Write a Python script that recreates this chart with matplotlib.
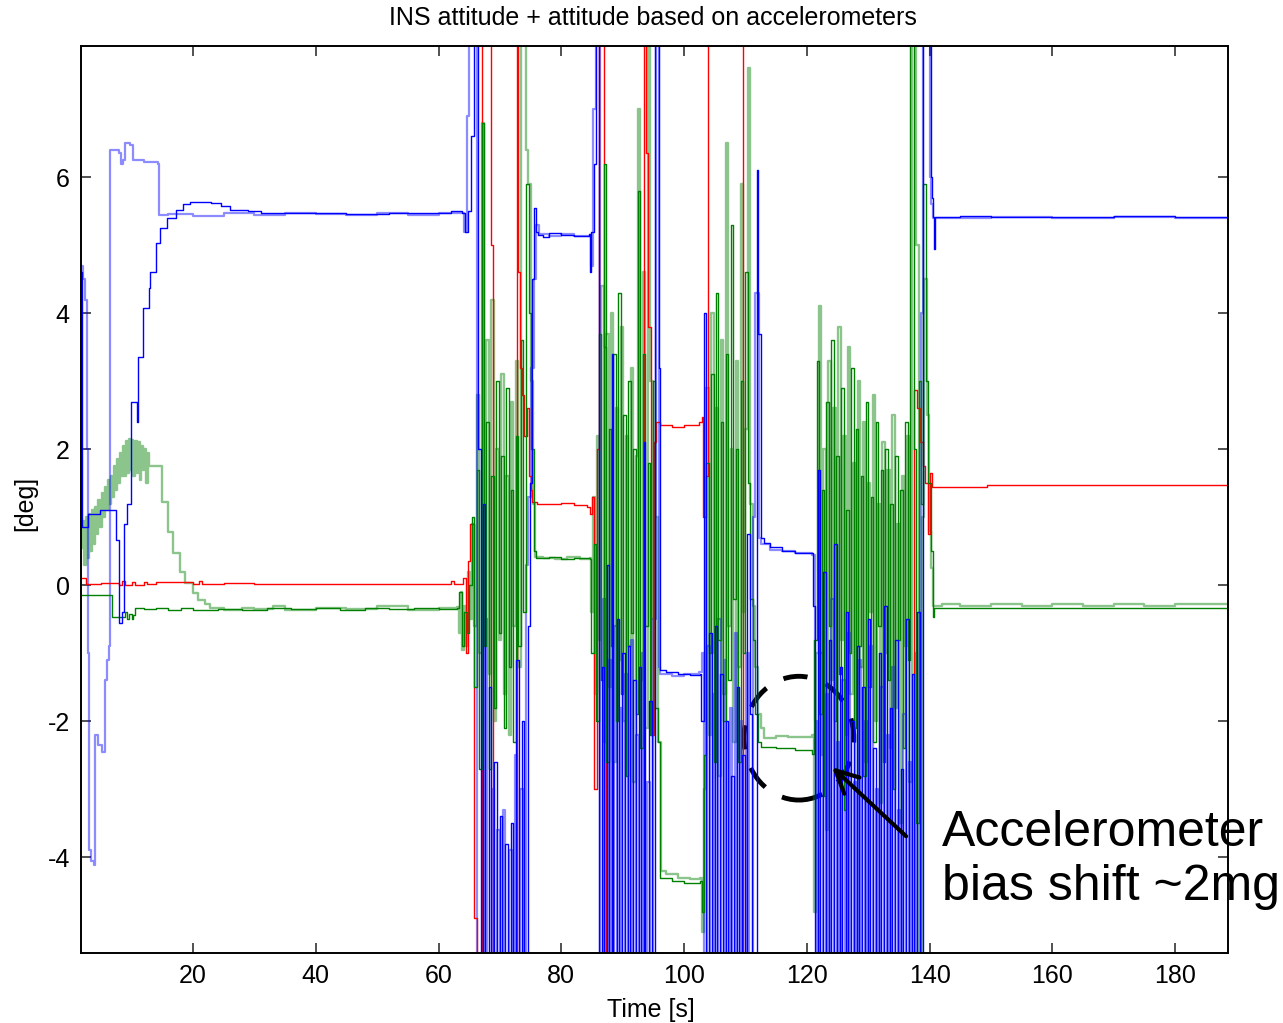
import numpy as np
import matplotlib
matplotlib.use("Agg")
import matplotlib.pyplot as plt
from matplotlib.patches import Ellipse

# (time [s], angle [deg]) pairs, values outside the
# axes (9 / -7) mean the trace leaves the visible window
blue_ins = [(1.8, 4.6), (1.95, 0.85), (2.9, 1.05), (4.9, 1.1), (7.5, 0.66), (8.0, -0.55), (8.5, -0.4),
            (8.7, 0.9), (9.3, 1.2), (9.9, 2.7), (10.8, 2.4), (11.0, 3.35), (11.85, 4.07), (12.8, 4.37),
            (13.0, 4.6), (14.0, 5.03), (14.6, 5.26), (15.8, 5.4), (17.2, 5.52), (18.4, 5.6), (19.5, 5.64),
            (23.0, 5.62), (24.5, 5.58), (26.0, 5.52), (29.0, 5.5), (31.0, 5.48), (36.0, 5.47), (45.0, 5.46),
            (52.0, 5.47), (58.0, 5.48), (62.0, 5.5), (63.8, 5.48), (64.3, 5.2), (64.8, 5.5), (65.3, 6.6),
            (65.8, 9), (66.5, 2.0), (66.9, -7),
            (67.3, 1.2), (67.6, -7), (68.2, -1.5), (68.6, -7), (69.1, -2.6), (69.5, -7), (70.0, -3.4),
            (70.4, -7), (70.9, -3.8), (71.3, -7), (71.8, -3.5), (72.2, -7), (72.7, -1.1), (73.1, -7),
            (73.6, -2.0), (74.0, -7), (74.5, -0.6), (74.9, 1.5), (75.2, 4.5), (75.5, 5.55), (75.8, 5.2),
            (76.2, 5.15), (77.0, 5.12), (78.0, 5.18), (80.0, 5.15), (82.0, 5.14), (84.5, 5.16), (84.7, 4.6),
            (84.9, 5.2), (85.3, 6.2), (85.7, 9), (86.1, -7),
            (86.6, -1.2), (87.0, -7), (87.4, 0.3), (87.8, -7), (88.2, 3.4), (88.5, -7), (89.0, -0.5),
            (89.4, -7), (89.9, -1.0), (90.3, -7), (90.8, -0.9), (91.2, -7), (91.7, -1.4), (92.1, -7),
            (92.6, -1.2), (93.0, -7), (93.4, 2.1), (93.7, -7), (94.3, -1.7), (94.7, -7), (95.3, 9),
            (95.9, 3.2), (96.1, -1.25), (97.0, -1.28), (99.0, -1.3), (101.0, -1.32), (102.6, -1.3),
            (102.8, -2.0), (103.2, 4.0), (103.6, -7), (104.1, -0.7), (104.5, -7), (105.0, -0.6), (105.4, -7),
            (105.9, -1.3), (106.3, -7), (106.8, -2.0), (107.2, -7), (107.7, -2.8), (108.1, -7), (108.6, -1.5),
            (109.0, -7), (109.5, -2.5), (109.9, -7), (110.3, 0.76), (110.7, -1.9), (111.1, -7), (111.8, 6.1),
            (112.1, 3.7), (112.5, 0.69), (113.0, 0.62), (114.0, 0.56), (116.0, 0.5), (118.0, 0.48),
            (120.9, 0.47),
            (121.0, -0.3), (121.3, -7), (121.8, 1.7), (122.2, -7), (122.7, 0.2), (123.1, -7), (123.6, -0.8),
            (124.0, -7), (124.5, 0.6), (124.9, -7), (125.4, -1.2), (125.8, -7), (126.3, -0.4), (126.7, -7),
            (127.2, -2.0), (127.6, -7), (128.1, -0.9), (128.5, -7), (129.0, -1.5), (129.4, -7), (129.9, -0.5),
            (130.3, -7), (130.8, -2.4), (131.2, -7), (131.7, -1.0), (132.1, -7), (132.6, -0.3), (133.0, -7),
            (133.5, -1.8), (133.9, -7), (134.4, -0.8), (134.8, -7), (135.3, -2.7), (135.7, -7), (136.2, -0.5),
            (136.6, -7), (137.1, -1.3), (137.5, -7), (138.0, -0.4), (138.4, -7), (139.0, 9), (140.2, 6.0),
            (140.4, 5.7), (140.6, 5.41), (140.7, 4.95), (140.8, 5.42), (145.0, 5.43), (150.0, 5.42),
            (160.0, 5.41), (170.0, 5.43), (180.0, 5.42), (188.6, 5.42)]

blue_acc = [(1.8, 4.7), (2.1, 4.5), (2.4, 4.2), (2.7, 2.0), (2.9, -1.0), (3.1, -3.9), (3.4, -4.05),
            (3.8, -4.12), (4.0, -2.2), (4.5, -2.35), (5.2, -2.45), (5.6, -1.4), (6.0, -1.1), (6.3, -0.9),
            (6.55, 6.4), (8.0, 6.35), (8.3, 6.2), (8.6, 6.25), (8.9, 6.5), (9.8, 6.47), (10.3, 6.25),
            (12.0, 6.22), (14.3, 6.2), (14.4, 5.44), (16.0, 5.46), (20.0, 5.43), (25.0, 5.47), (30.0, 5.45),
            (35.0, 5.48), (40.0, 5.46), (45.0, 5.44), (50.0, 5.47), (55.0, 5.45), (60.0, 5.48), (63.5, 5.47),
            (64.2, 5.2), (64.6, 6.9), (65.0, 9), (66.2, -7),
            (67.5, -0.5), (67.9, -7), (68.7, -3.0), (69.1, -7), (69.6, -3.6), (70.0, -7), (70.5, -3.3),
            (70.9, -7), (71.5, -3.9), (71.9, -7), (72.4, -2.5), (72.8, -7), (73.3, -3.0), (73.7, -7),
            (74.2, 0.3), (74.6, 1.3), (75.0, 3.2), (75.5, 4.5), (75.9, 5.3), (76.3, 5.16), (78.0, 5.14),
            (80.0, 5.17), (82.0, 5.13), (84.6, 5.15), (84.9, 4.7), (85.2, 7.0), (85.6, 9), (86.3, -7),
            (86.8, -0.2), (87.2, -7), (87.7, -1.1), (88.1, -7), (88.6, -0.6), (89.0, -7), (89.5, -1.8),
            (89.9, -7), (90.4, -1.3), (90.8, -7), (91.3, -0.8), (91.7, -7), (92.2, -2.2), (92.6, -7),
            (93.1, -1.0), (93.5, -7), (94.0, -2.9), (94.4, -7), (94.9, -0.5), (95.4, 9), (95.9, -1.2),
            (96.1, -1.3), (98.0, -1.33), (100.0, -1.3), (102.5, -1.28),
            (102.9, -1.0), (103.3, -7), (103.8, -0.9), (104.2, -7), (104.7, -1.6), (105.1, -7), (105.6, -0.5),
            (106.0, -7), (106.5, -1.1), (106.9, -7), (107.4, -1.8), (107.8, -7), (108.3, -0.7), (108.7, -7),
            (109.2, -2.0), (109.6, -7), (110.1, -1.0), (110.5, -7), (111.2, 1.0), (111.6, 4.3), (112.2, 0.7),
            (112.6, 0.6), (114.0, 0.52), (116.0, 0.5), (118.0, 0.47), (120.9, 0.45),
            (121.3, -2.0), (121.7, -7), (122.2, -1.0), (122.6, -7), (123.1, -1.6), (123.5, -7), (124.0, -0.2),
            (124.4, -7), (124.9, -2.3), (125.3, -7), (125.8, -1.4), (126.2, -7), (126.7, -0.7), (127.1, -7),
            (127.6, -2.9), (128.0, -7), (128.5, -1.1), (128.9, -7), (129.4, -2.0), (129.8, -7), (130.3, -0.9),
            (130.7, -7), (131.2, -3.0), (131.6, -7), (132.1, -1.5), (132.5, -7), (133.0, -2.2), (133.4, -7),
            (133.9, -1.2), (134.3, -7), (134.8, -3.3), (135.2, -7), (135.7, -1.9), (136.1, -7), (136.6, -2.6),
            (137.0, -7), (137.6, -1.0), (138.0, -7), (138.6, 4.0), (139.0, 9), (140.0, 6.0), (140.3, 5.6),
            (140.6, 5.4), (145.0, 5.4), (150.0, 5.42), (160.0, 5.4), (170.0, 5.41), (180.0, 5.4), (188.6, 5.4)]

green_acc = [(1.8, 0.55), (2.1, 0.95), (2.3, 0.3), (2.6, 1.0), (2.8, 0.4), (3.1, 1.05), (3.3, 0.5),
             (3.6, 1.1), (3.8, 0.6), (4.1, 1.15), (4.3, 0.75), (4.6, 1.25), (4.8, 0.85), (5.1, 1.35),
             (5.3, 1.0), (5.6, 1.45), (5.8, 1.1), (6.1, 1.55), (6.3, 1.2), (6.6, 1.6), (6.8, 1.3), (7.1, 1.75),
             (7.3, 1.4), (7.6, 1.85), (7.8, 1.5), (8.1, 1.95), (8.3, 1.6), (8.6, 2.05), (8.8, 1.6), (9.1, 2.12),
             (9.3, 1.65), (9.6, 2.15), (9.8, 1.7), (10.1, 2.14), (10.3, 1.6), (10.6, 2.12), (10.8, 1.65),
             (11.1, 2.1), (11.3, 1.55), (11.6, 2.05), (11.8, 1.7), (12.1, 2.0), (12.3, 1.5), (12.6, 1.95),
             (12.8, 1.75), (14.95, 1.22), (15.9, 0.78), (16.7, 0.47), (17.9, 0.19), (18.7, 0.03),
             (20.0, -0.12), (20.8, -0.22), (22.0, -0.27), (22.8, -0.34), (25.0, -0.36), (28.0, -0.33),
             (30.0, -0.35), (33.0, -0.3), (35.0, -0.36), (40.0, -0.33), (45.0, -0.35), (50.0, -0.31),
             (55.0, -0.36), (60.0, -0.33), (63.0, -0.32), (63.3, -0.7), (63.6, -0.1), (63.9, -0.96),
             (64.2, -0.3), (64.5, -0.9), (64.8, 0.2), (65.1, -0.5), (65.4, 0.9),
             (65.8, -0.6), (66.2, 2.8), (66.6, -1.0), (67.0, 6.8), (67.4, -0.5), (67.8, 3.6), (68.2, -1.3),
             (68.6, 4.2), (69.0, -2.0), (69.4, 2.0), (69.8, -0.8), (70.2, 3.1), (70.6, -1.6), (71.0, 1.6),
             (71.4, -2.2), (71.8, 2.7), (72.2, -0.6), (72.6, 3.3), (73.0, -1.2), (73.4, 9), (74.2, 6.4),
             (74.6, 5.9), (75.0, 3.0), (75.4, 1.2), (75.7, 0.42), (77.0, 0.4), (79.0, 0.38), (81.0, 0.41),
             (83.0, 0.39), (84.6, 0.4),
             (84.9, -0.4), (85.2, 1.3), (85.5, -1.6), (85.8, 2.2), (86.1, -0.8), (86.5, 4.4), (86.9, -2.3),
             (87.3, 3.7), (87.7, -1.5), (88.1, 4.0), (88.5, -2.6), (88.9, 2.6), (89.3, -1.1), (89.7, 3.8),
             (90.1, -2.0), (90.5, 2.2), (90.9, -0.9), (91.3, 3.2), (91.7, -2.9), (92.1, 1.9), (92.5, 7.0),
             (92.9, -1.4), (93.3, 4.6), (93.7, -2.1), (94.1, 9), (94.5, 3.0), (94.9, -0.5), (95.3, 1.0),
             (95.7, -2.3), (96.2, -4.2), (97.0, -4.25), (99.0, -4.3), (101.0, -4.32), (102.6, -4.3),
             (102.9, -5.1), (103.2, -3.0), (103.6, 2.9), (104.0, -2.2), (104.4, 4.0), (104.8, -1.0),
             (105.2, 2.6), (105.6, -2.8), (106.0, 3.6), (106.4, -1.6), (106.8, 6.5), (107.2, -0.6),
             (107.6, 2.0), (108.0, -2.3), (108.4, 3.3), (108.8, -1.2), (109.2, 5.9), (109.6, -0.4),
             (110.0, 2.3), (110.4, 7.6), (110.8, 1.2), (111.2, -0.3), (111.6, -1.2), (112.0, -1.9),
             (112.5, -2.1), (113.0, -2.25), (115.0, -2.22), (117.0, -2.24), (119.0, -2.23), (120.9, -2.2),
             (121.1, -4.8), (121.5, -1.0), (121.9, 4.1), (122.3, -2.5), (122.7, 2.0), (123.1, -3.6),
             (123.5, 3.3), (123.9, -1.4), (124.3, 2.6), (124.7, -2.8), (125.1, 3.8), (125.5, -0.8),
             (125.9, 2.2), (126.3, -2.2), (126.7, 3.5), (127.1, -1.6), (127.5, 1.8), (127.9, -3.0),
             (128.3, 3.0), (128.7, -1.2), (129.1, 2.4), (129.5, -2.6), (129.9, 1.5), (130.3, -0.4),
             (130.7, 2.8), (131.1, -2.0), (131.5, 1.2), (131.9, -3.2), (132.3, 2.1), (132.7, -1.0),
             (133.1, 1.7), (133.5, -2.4), (133.9, 2.5), (134.3, -1.8), (134.7, 0.9), (135.1, -3.5),
             (135.5, 1.6), (135.9, -0.9), (136.3, 2.2), (136.7, -2.9), (137.1, 9), (137.8, 5.0), (138.2, -6),
             (138.7, 1.0), (139.1, 4.5), (139.5, 2.5), (139.9, 0.8), (140.3, 0.26), (140.6, -0.3),
             (142.0, -0.27), (145.0, -0.3), (150.0, -0.28), (155.0, -0.3), (160.0, -0.27), (165.0, -0.3),
             (170.0, -0.28), (175.0, -0.3), (180.0, -0.28), (185.0, -0.27), (188.6, -0.28)]

green_ins = [(1.8, -0.15), (6.7, -0.15), (6.8, -0.47), (8.5, -0.47), (9.0, -0.4), (9.3, -0.5), (9.6, -0.42),
             (10.0, -0.5), (10.3, -0.44), (10.6, -0.34), (12.0, -0.35), (14.0, -0.33), (16.0, -0.36),
             (18.0, -0.34), (20.0, -0.37), (24.0, -0.35), (28.0, -0.36), (32.0, -0.33), (36.0, -0.35),
             (40.0, -0.34), (44.0, -0.36), (48.0, -0.33), (52.0, -0.35), (56.0, -0.34), (60.0, -0.35),
             (63.0, -0.33), (63.4, -0.1), (63.8, -0.9), (64.2, -0.4), (64.6, -0.7), (65.0, 0.0), (65.4, 1.0),
             (65.8, -1.5), (66.2, 1.7), (66.6, -2.7), (67.0, 6.8), (67.4, -0.9), (67.8, 2.4), (68.2, -2.7),
             (68.6, 1.6), (69.0, -1.8), (69.4, 3.0), (69.8, -0.7), (70.2, 1.9), (70.6, -2.1), (71.0, 2.9),
             (71.4, -1.2), (71.8, 1.4), (72.2, -2.3), (72.6, 2.2), (73.0, -0.9), (73.4, 3.6), (73.8, -0.4),
             (74.3, 5.9), (74.7, 4.0), (75.1, 2.0), (75.5, 0.5), (75.8, 0.4), (78.0, 0.41), (80.0, 0.39),
             (82.0, 0.4), (84.6, 0.38),
             (84.9, -1.0), (85.3, 0.6), (85.7, -2.0), (86.1, 3.7), (86.5, -1.4), (86.9, 6.2), (87.3, -2.6),
             (87.7, 2.3), (88.1, -0.9), (88.5, 3.4), (88.9, -2.0), (89.3, 4.3), (89.7, -1.6), (90.1, 2.5),
             (90.5, -2.8), (90.9, 3.0), (91.3, -0.7), (91.7, 2.0), (92.1, -1.9), (92.5, 5.8), (92.9, -2.4),
             (93.3, 3.4), (93.7, -0.6), (94.1, 1.8), (94.5, -2.2), (94.9, 3.0), (95.3, -1.8), (95.7, -2.3),
             (96.1, -4.3), (98.0, -4.35), (100.0, -4.38), (102.6, -4.35),
             (102.9, -4.8), (103.2, -2.5), (103.6, 1.8), (104.0, -1.0), (104.4, 3.1), (104.8, -2.6),
             (105.2, 4.3), (105.6, -0.8), (106.0, 2.4), (106.4, -2.0), (106.8, 3.4), (107.2, -1.4),
             (107.6, 5.3), (108.0, -0.2), (108.4, 2.0), (108.8, -2.6), (109.2, 3.0), (109.6, -1.0),
             (110.0, 4.6), (110.4, 1.5), (110.8, -0.2), (111.2, -0.8), (111.6, -1.9), (112.0, -2.3),
             (112.6, -2.38), (115.0, -2.4), (118.0, -2.43), (120.9, -2.48),
             (121.2, -0.8), (121.6, 3.3), (122.0, -1.9), (122.4, 1.4), (122.8, -3.1), (123.2, 2.7),
             (123.6, -0.6), (124.0, 3.6), (124.4, -2.0), (124.8, 1.9), (125.2, -1.3), (125.6, 2.9),
             (126.0, -3.3), (126.4, 1.1), (126.8, -1.0), (127.2, 3.2), (127.6, -2.1), (128.0, 2.3),
             (128.4, -0.9), (128.8, 1.6), (129.2, -2.8), (129.6, 2.7), (130.0, -1.5), (130.4, 1.3),
             (130.8, -2.3), (131.2, 2.4), (131.6, -0.6), (132.0, 1.7), (132.4, -2.6), (132.8, 2.0),
             (133.2, -1.4), (133.6, 1.2), (134.0, -3.0), (134.4, 1.9), (134.8, -0.8), (135.2, 1.4),
             (135.6, -2.4), (136.0, 2.4), (136.4, -1.1), (136.8, 9), (137.4, 2.0), (137.8, -3.5), (138.2, 3.0),
             (138.6, 1.2), (139.0, 5.9), (139.4, 3.0), (139.8, 1.5), (140.2, 0.5), (140.5, -0.47),
             (140.7, -0.34), (145.0, -0.33), (150.0, -0.34), (160.0, -0.33), (170.0, -0.34), (180.0, -0.33),
             (188.6, -0.34)]

red = [(1.8, 0.1), (2.6, 0.02), (5.0, 0.03), (8.0, 0.0), (8.5, 0.06), (9.0, 0.0), (10.0, 0.05), (10.5, 0.01),
       (12.0, 0.05), (12.5, 0.02), (14.0, 0.04), (20.0, 0.02), (21.0, 0.06), (21.5, 0.02), (25.0, 0.03),
       (30.0, 0.02), (40.0, 0.02), (50.0, 0.02), (60.0, 0.02), (62.0, 0.06), (62.5, 0.02), (63.5, 0.02),
       (64.0, 0.1), (64.4, -1.0), (64.8, 0.35), (65.2, 0.9), (65.7, -4.9), (66.3, -7), (67.1, 9), (68.5, 5.0),
       (68.8, -7), (72.8, 9), (73.0, 4.6), (73.3, 3.2), (73.6, 2.8), (74.0, 2.2), (74.4, 2.6), (74.7, 1.6),
       (75.0, 1.4), (75.3, 1.22), (76.0, 1.2), (78.0, 1.19), (80.0, 1.21), (82.0, 1.18), (84.2, 1.15),
       (84.6, 1.05), (85.0, 1.3), (85.4, -3.0), (85.8, 2.0), (86.2, 9), (86.9, 3.5), (87.2, -7), (93.4, 9),
       (93.8, 6.35), (94.2, 3.8), (94.6, -2.2), (95.1, 2.1), (95.5, 2.4), (96.0, 2.35), (98.0, 2.33),
       (100.0, 2.36), (102.5, 2.4), (102.9, 2.47), (103.1, 1.0), (103.5, 1.6), (103.9, 9), (109.6, -7),
       (137.4, 2.87), (138.0, 2.6), (138.5, 2.1), (138.9, 1.75), (139.3, 1.5), (139.7, 0.76), (140.0, 1.65),
       (140.4, 1.44), (145.0, 1.44), (149.4, 1.48), (155.0, 1.47), (160.0, 1.48), (170.0, 1.48),
       (180.0, 1.48), (188.6, 1.48)]

x_ticks = [20, 40, 60, 80, 100, 120, 140, 160, 180]
y_ticks = [-4, -2, 0, 2, 4, 6]

plt.rcParams['font.family'] = ['Liberation Sans', 'DejaVu Sans']
plt.rcParams['axes.unicode_minus'] = False

fig = plt.figure(figsize=(12.83, 10.23), dpi=100)
ax = fig.add_axes([0.0631, 0.0684, 0.8940, 0.8866])


def draw(series, color, lw, alpha):
    t, v = zip(*series)
    ax.plot(t, v, color=color, lw=lw, alpha=alpha, drawstyle='steps-post')


# accelerometer based traces are drawn pale, INS traces solid
draw(green_acc, '#008000', 1.7, 0.45)
draw(blue_acc, '#0000ff', 1.6, 0.45)
draw(red, '#ff0000', 1.0, 1.0)
draw(green_ins, '#008000', 1.0, 1.0)
draw(blue_ins, '#0000ff', 1.0, 1.0)

ax.set_xlim(1.75, 188.6)
ax.set_ylim(-5.41, 7.93)
ax.set_xticks(x_ticks)
ax.set_yticks(y_ticks)
ax.tick_params(direction='in', top=True, right=True, length=7, width=1.2,
               color='#333333', labelsize=18, pad=8)
for s in ax.spines.values():
    s.set_linewidth(1.4)

fig.text(0.5086, 0.982, 'INS attitude + attitude based on accelerometers',
         ha='center', va='center', fontsize=18)
fig.text(0.507, 0.013, 'Time [s]', ha='center', va='center', fontsize=18)
fig.text(0.0195, 0.508, '[deg]', ha='center', va='center', rotation=90, fontsize=18)

# annotation: dashed circle, arrow and label
ax.add_patch(Ellipse((118.7, -2.25), 17.9, 1.82, fill=False, color='black', lw=3.5,
                     ls=(0, (5, 4)), clip_on=False))
ax.annotate('', xy=(123.8, -2.65), xytext=(136.5, -3.72),
            arrowprops=dict(arrowstyle='->', lw=3, color='black', mutation_scale=40))
fig.text(942 / 1283, 1 - 810 / 1023, 'Accelerometer\nbias shift ~2mg', ha='left', va='top',
         fontsize=36, linespacing=1.22)

fig.savefig('out.png', dpi=100)
